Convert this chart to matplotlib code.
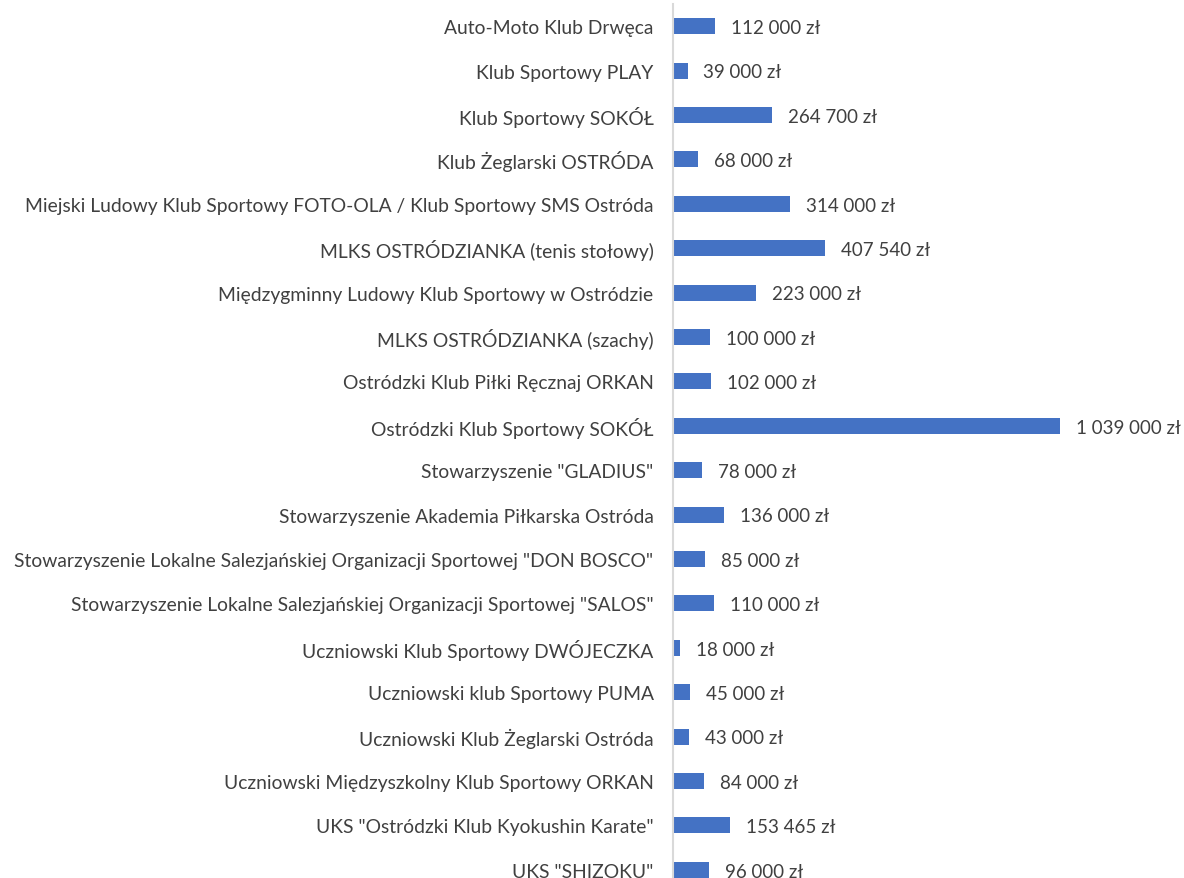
import matplotlib.pyplot as plt

clubs = [
    'Auto-Moto Klub Drwęca',
    'Klub Sportowy PLAY',
    'Klub Sportowy SOKÓŁ',
    'Klub Żeglarski OSTRÓDA',
    'Miejski Ludowy Klub Sportowy FOTO-OLA / Klub Sportowy SMS Ostróda',
    'MLKS OSTRÓDZIANKA (tenis stołowy)',
    'Międzygminny Ludowy Klub Sportowy w Ostródzie',
    'MLKS OSTRÓDZIANKA (szachy)',
    'Ostródzki Klub Piłki Ręcznaj ORKAN',
    'Ostródzki Klub Sportowy SOKÓŁ',
    'Stowarzyszenie "GLADIUS"',
    'Stowarzyszenie Akademia Piłkarska Ostróda',
    'Stowarzyszenie Lokalne Salezjańskiej Organizacji Sportowej "DON BOSCO"',
    'Stowarzyszenie Lokalne Salezjańskiej Organizacji Sportowej "SALOS"',
    'Uczniowski Klub Sportowy DWÓJECZKA',
    'Uczniowski klub Sportowy PUMA',
    'Uczniowski Klub Żeglarski Ostróda',
    'Uczniowski Międzyszkolny Klub Sportowy ORKAN',
    'UKS "Ostródzki Klub Kyokushin Karate"',
    'UKS "SHIZOKU"',
]
amounts = [112000, 39000, 264700, 68000, 314000, 407540, 223000, 100000,
           102000, 1039000, 78000, 136000, 85000, 110000, 18000, 45000,
           43000, 84000, 153465, 96000]

def fmt(v):
    return '{:,}'.format(v).replace(',', ' ') + ' zł'

plt.rcParams['font.family'] = ['Lato', 'DejaVu Sans']
text_color = '#404040'

fig = plt.figure(figsize=(11.84, 8.79), dpi=100)
left = 673 / 1184
top = 1 - 5 / 879
bottom = 1 - 893 / 879
ax = fig.add_axes([left, bottom, 1 - left, top - bottom])

pos = list(range(len(clubs)))
ax.barh(pos, amounts, height=0.36, color='#4472C4')
for p, v in zip(pos, amounts):
    ax.annotate(fmt(v), (v, p), xytext=(11.5, -1), textcoords='offset points',
                va='center', ha='left', fontsize=13.5, color=text_color)

ax.set_ylim(len(clubs) - 0.5, -0.5)
ax.set_xlim(0, 511 / 387 * 1039000)
ax.set_yticks(pos)
ax.set_yticklabels(clubs, fontsize=13.9, color=text_color)
ax.tick_params(axis='y', length=0, pad=14)
ax.set_xticks([])
for s in ['top', 'right', 'bottom']:
    ax.spines[s].set_visible(False)
ax.spines['left'].set_color('#D9D9D9')
ax.spines['left'].set_linewidth(1.5)

fig.savefig('out.png', dpi=100)
